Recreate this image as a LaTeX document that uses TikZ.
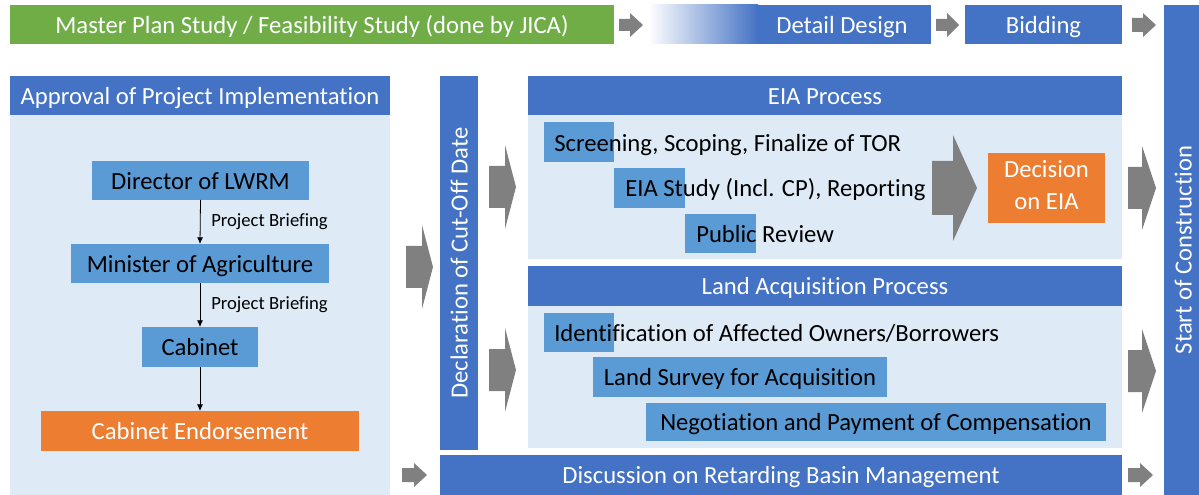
\documentclass[tikz,border=0pt]{standalone}
\usepackage{fontspec}
\setmainfont[Ligatures=NoCommon]{Carlito}
\usetikzlibrary{arrows.meta}

\definecolor{hdrblue}{HTML}{4472C4}
\definecolor{panelblue}{HTML}{DEEBF7}
\definecolor{midblue}{HTML}{5B9BD5}
\definecolor{orng}{HTML}{ED7D31}
\definecolor{grn}{HTML}{70AD47}
\definecolor{arrgray}{HTML}{808080}

% block arrow: x start, x where head begins, x tip, y centre, shaft half height, head half height
\newcommand\grayarrow[6]{%
  \fill[blockarrow] (#1,#4-#5) -- (#2,#4-#5) -- (#2,#4-#6) -- (#3,#4)
    -- (#2,#4+#6) -- (#2,#4+#5) -- (#1,#4+#5) -- cycle;}

\tikzset{
  % rectangle given by its corners (x1,y1) (x2,y2) in picture units
  rect/.style n args={4}{at={({(#1+#3)/2},{(#2+#4)/2})}, anchor=center,
    minimum width={(#3-#1)*0.75pt}, minimum height={(#4-#2)*0.75pt}},
  line/.style={text height=17pt, text depth=4pt},
  blockarrow/.style={fill=arrgray},
  area/.style={inner sep=0pt, outer sep=0pt, line},
  bar/.style={area, fill=hdrblue, text=white},
  panel/.style={area, fill=panelblue},
  stepbox/.style={area, fill=midblue, text=black},
  orangebox/.style={area, fill=orng, text=white},
  words/.style={inner sep=0pt, text=black, line},
  small/.style={inner sep=0pt, font=\fontsize{14}{16}\selectfont,
    text height=10.5pt, text depth=3pt},
  link/.style={-{Latex[length=5pt,width=4.5pt]}, line width=0.6pt},
}

\begin{document}
\begin{tikzpicture}[x=0.75pt, y=-0.75pt, font=\fontsize{18.5}{21}\selectfont]
\useasboundingbox (0,0) rectangle (1199,495);

% ---- top row ----
\node[rect={10}{5}{614}{44}, area, fill=grn, text=white] (msfs)
  {Master Plan Study / Feasibility Study (done by JICA)};
\grayarrow{619}{630}{643}{25}{6}{12}
\fill[left color=white, right color=hdrblue] (648,5) rectangle (758,44);
\fill[hdrblue] (757,5) rectangle (931,44);
\node[rect={648}{5}{931}{44}, area] (dd) {};
\node[inner sep=0pt, text=white, line] (ddtext) at (842,25) {Detail Design};
\grayarrow{936}{947}{959}{25}{6}{12}
\node[rect={965}{5}{1122}{44}, bar] (bid) {Bidding};
\grayarrow{1132}{1143}{1156}{25}{7}{12}
\node[rect={1164}{5}{1199}{495}, bar] (start) {};
\node[inner sep=0pt, text=white, rotate=90, line] (starttext) at (1183,250)
  {Start of Construction};

% ---- approval panel ----
\node[rect={10}{76}{390}{115}, bar] (apphdr) {Approval of Project Implementation};
\node[rect={10}{115}{390}{495}, panel] (apppanel) {};
\node[rect={92}{161}{309}{200}, stepbox] (dir) {Director of LWRM};
\node[rect={71}{244}{329}{283}, stepbox] (min) {Minister of Agriculture};
\node[rect={142}{327}{258}{367}, stepbox] (cab) {Cabinet};
\node[rect={41}{411}{359}{451}, orangebox] (endorse) {Cabinet Endorsement};
\draw[link] (dir.south) -- (min.north);
\draw[link] (min.south) -- (cab.north);
\draw[link] (cab.south) -- (endorse.north);
\node[small, anchor=west] (brief1) at (211,222) {Project Briefing};
\node[small, anchor=west] (brief2) at (211,305) {Project Briefing};

\grayarrow{406}{422}{433}{267}{21}{42}
\grayarrow{402}{414}{427}{475}{7}{12}

% ---- cut-off date ----
\node[rect={440}{76}{478}{450}, bar] (decl) {};
\node[inner sep=0pt, text=white, rotate=90, line] (decltext) at (459,263)
  {Declaration of Cut-Off Date};
\grayarrow{489}{505}{516}{187}{21}{42}
\grayarrow{489}{505}{516}{370}{21}{42}

% ---- EIA process ----
\node[rect={528}{76}{1122}{115}, bar] (eiahdr) {EIA Process};
\node[rect={528}{115}{1122}{259}, panel] (eiapanel) {};
\node[rect={544}{122}{614}{162}, stepbox] (scrbox) {};
\node[rect={614}{168}{685}{208}, stepbox] (studybox) {};
\node[rect={685}{214}{756}{253}, stepbox] (pubbox) {};
\node[words, anchor=west] (scr) at (554,143) {Screening, Scoping, Finalize of TOR};
\node[words, anchor=west] (study) at (625,188) {EIA Study (Incl. CP), Reporting};
\node[words, anchor=west] (pub) at (696,234) {Public Review};
\grayarrow{932}{953}{977}{188}{27}{53}
\node[rect={988}{153}{1105}{223}, inner sep=0pt, fill=orng, text=white] (dec)
  {\begin{tabular}{@{}c@{}}Decision\\[3pt]on EIA\end{tabular}};

% ---- land acquisition ----
\node[rect={528}{266}{1122}{306}, bar] (lahdr) {Land Acquisition Process};
\node[rect={528}{306}{1122}{448}, panel] (lapanel) {};
\node[rect={544}{313}{614}{352}, stepbox] (idbox) {};
\node[words, anchor=west] (ident) at (554,333) {Identification of Affected Owners/Borrowers};
\node[rect={593}{357}{887}{397}, stepbox] (survey) {Land Survey for Acquisition};
\node[rect={646}{403}{1106}{441}, stepbox] (nego) {Negotiation and Payment of Compensation};

% ---- retarding basin ----
\node[rect={440}{455}{1122}{495}, bar] (disc) {Discussion on Retarding Basin Management};

% ---- into construction ----
\grayarrow{1128}{1142}{1156}{188}{21}{42}
\grayarrow{1128}{1142}{1156}{371}{21}{42}
\grayarrow{1128}{1140}{1153}{475}{7}{12}
\end{tikzpicture}
\end{document}
